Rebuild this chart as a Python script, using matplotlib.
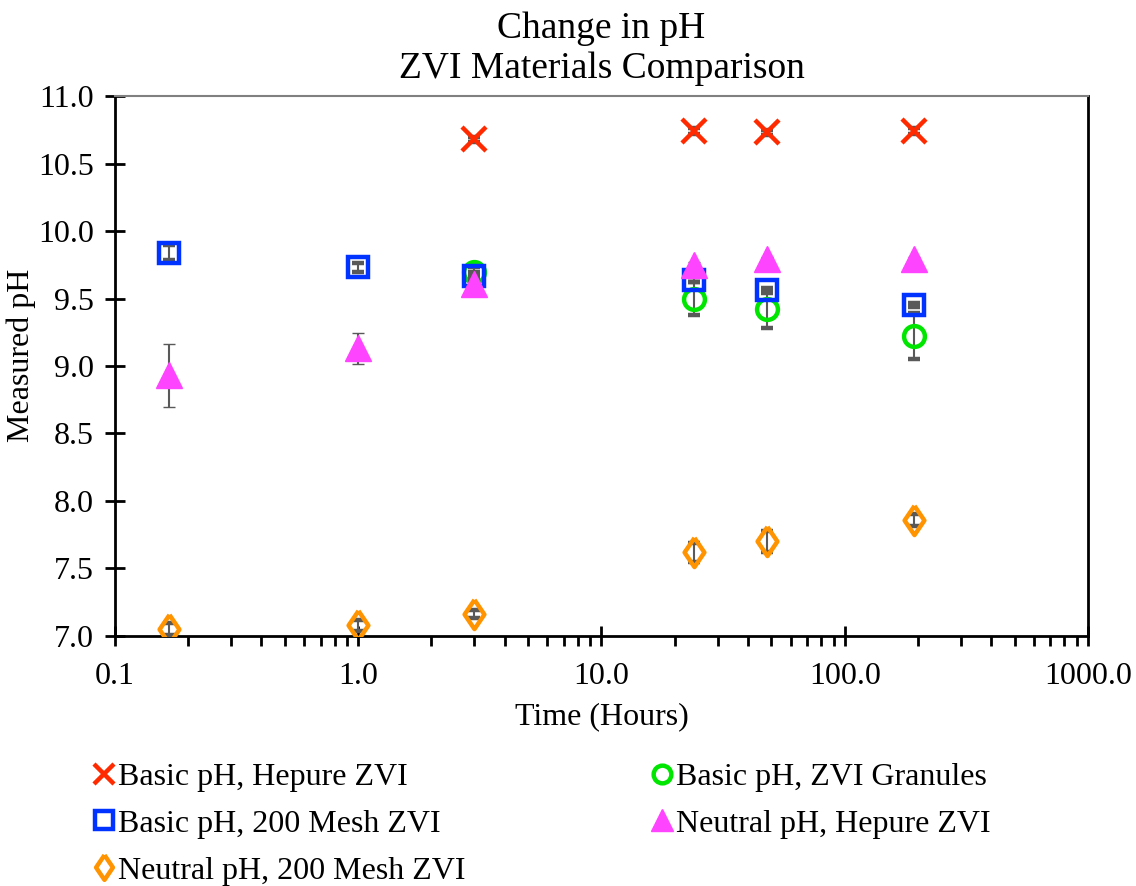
import matplotlib
matplotlib.use('Agg')
import matplotlib.pyplot as plt
from matplotlib.ticker import FixedLocator, FixedFormatter, LogLocator, NullFormatter
import numpy as np

plt.rcParams['font.family'] = 'Liberation Serif'
plt.rcParams['font.size'] = 23

# time points in hours
time_all = [0.167, 1.0, 3.0, 24.0, 48.0, 192.0]
time_late = [3.0, 24.0, 48.0, 192.0]

# measured pH values and standard deviations
hepure_basic = [10.68, 10.74, 10.73, 10.74]
hepure_basic_err = [0.02, 0.02, 0.02, 0.02]
granules_basic = [9.70, 9.50, 9.42, 9.22]
granules_basic_err = [0.03, 0.12, 0.14, 0.17]
mesh_basic = [9.84, 9.73, 9.67, 9.64, 9.56, 9.45]
mesh_basic_err = [0.055, 0.035, 0.03, 0.02, 0.02, 0.015]
hepure_neutral = [8.93, 9.13, 9.61, 9.75, 9.79, 9.79]
hepure_neutral_err = [0.23, 0.115, 0.03, 0.02, 0.02, 0.02]
mesh_neutral = [7.05, 7.08, 7.16, 7.62, 7.70, 7.86]
mesh_neutral_err = [0.045, 0.04, 0.03, 0.07, 0.08, 0.045]

labels = ["Basic pH, Hepure ZVI", "Basic pH, ZVI Granules",
          "Basic pH, 200 Mesh ZVI", "Neutral pH, Hepure ZVI",
          "Neutral pH, 200 Mesh ZVI"]

# narrow diamond like the spreadsheet marker
diamond = [(0, 1), (0.68, 0), (0, -1), (-0.68, 0), (0, 1)]

fig = plt.figure(figsize=(11.36, 8.86), dpi=100)
ax = fig.add_axes([0.1012, 0.2822, 0.8565, 0.6094])

err_kw = dict(ecolor='#595959', elinewidth=1.5, capsize=4.5, capthick=1.5, linestyle='none')

h_red = ax.errorbar(time_late, hepure_basic, yerr=hepure_basic_err, marker='x', ms=17,
                    mec='#FF2A00', mew=3.2, zorder=3, **err_kw)
h_green = ax.errorbar(time_late, granules_basic, yerr=granules_basic_err, marker='o', ms=15,
                      mfc='none', mec='#00E600', mew=3.2, zorder=3, **err_kw)
h_blue = ax.errorbar(time_all, mesh_basic, yerr=mesh_basic_err, marker='s', ms=15,
                     mfc='none', mec='#0033FF', mew=3.2, zorder=4, **err_kw)
h_mag = ax.errorbar(time_all, hepure_neutral, yerr=hepure_neutral_err, marker='^', ms=19,
                    mfc='#FF44FF', mec='#FF44FF', mew=1, zorder=5, **err_kw)
h_orange = ax.errorbar(time_all, mesh_neutral, yerr=mesh_neutral_err, marker=diamond, ms=21,
                       mfc='none', mec='#FF9400', mew=3.2, zorder=3, **err_kw)

ax.set_xscale('log')
ax.set_xlim(0.1, 1000)
ax.set_ylim(7.0, 11.0)

ax.xaxis.set_major_locator(FixedLocator([0.1, 1, 10, 100, 1000]))
ax.xaxis.set_major_formatter(FixedFormatter(["0.1", "1.0", "10.0", "100.0", "1000.0"]))
ax.xaxis.set_minor_locator(LogLocator(base=10, subs=np.arange(2, 10)))
ax.xaxis.set_minor_formatter(NullFormatter())
ax.set_yticks(np.arange(7.0, 11.01, 0.5))
ax.set_yticklabels(["%.1f" % v for v in np.arange(7.0, 11.01, 0.5)])

ax.tick_params(axis='both', which='major', direction='inout', length=14, width=2, pad=8)
ax.tick_params(axis='x', which='minor', direction='out', length=7, width=2)
ax.tick_params(axis='x', which='major', pad=12)

for s in ['left', 'bottom', 'right']:
    ax.spines[s].set_linewidth(2)
    ax.spines[s].set_color('black')
ax.spines['top'].set_linewidth(1.5)
ax.spines['top'].set_color('#808080')

ax.set_xlabel("Time (Hours)", fontsize=23, labelpad=8)
ax.set_ylabel("Measured pH", fontsize=23)
ax.yaxis.set_label_coords(-0.081, 0.52)
ax.set_title("Change in pH\nZVI Materials Comparison", fontsize=27, linespacing=1.2, pad=13)

handles = [h_red[0], h_blue[0], h_orange[0], h_green[0], h_mag[0]]
leg_labels = [labels[0], labels[2], labels[4], labels[1], labels[3]]
fig.legend(handles, leg_labels, loc='upper left', bbox_to_anchor=(0.056, 0.172),
           ncol=2, frameon=False, handlelength=0.7, handletextpad=0.1,
           columnspacing=5.8, labelspacing=0.55, markerscale=0.85, fontsize=23)

fig.savefig("out.png", dpi=100)
